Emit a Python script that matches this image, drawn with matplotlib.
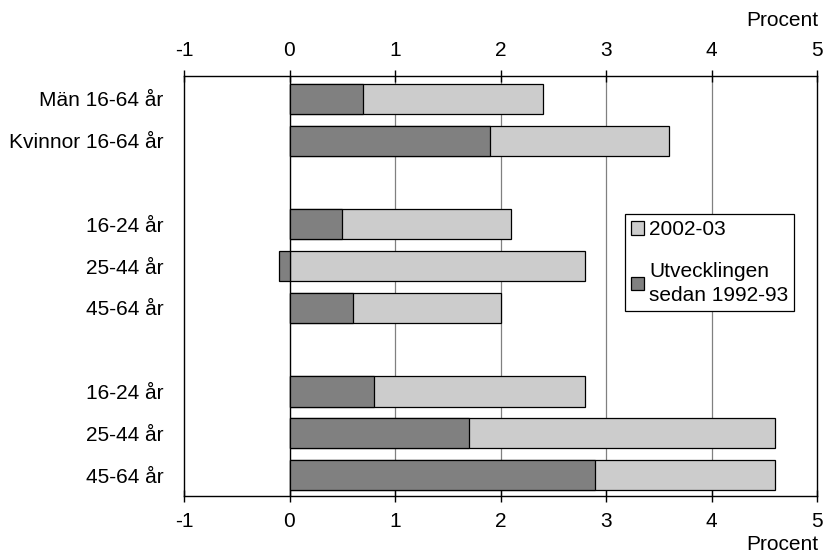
import numpy as np
import matplotlib
matplotlib.use("Agg")
import matplotlib.pyplot as plt
from matplotlib.patches import Patch

# data
labels = ["Män 16-64 år", "Kvinnor 16-64 år",
          "16-24 år", "25-44 år", "45-64 år",
          "16-24 år", "25-44 år", "45-64 år"]
ypos = [0, 1, 3, 4, 5, 7, 8, 9]
level_2002 = [2.4, 3.6, 2.1, 2.8, 2.0, 2.8, 4.6, 4.6]
change_since_1992 = [0.7, 1.9, 0.5, -0.1, 0.6, 0.8, 1.7, 2.9]
xticks = [-1, 0, 1, 2, 3, 4, 5]

plt.rcParams.update({"font.family": ["Liberation Sans", "DejaVu Sans"], "font.size": 15})

fig = plt.figure(figsize=(8.25, 5.58), dpi=100)
ax = fig.add_axes([184/825, 1-496/558, (817-184)/825, (496-76)/558])

light, dark = "#cccccc", "#808080"
h = 0.72
ax.barh(ypos, level_2002, height=h, color=light, edgecolor="black", lw=0.9, zorder=3)
ax.barh(ypos, change_since_1992, height=h, color=dark, edgecolor="black", lw=0.9, zorder=4)

ax.set_xlim(-1, 5)
ax.set_ylim(9.5, -0.55)
ax.set_xticks(xticks)
ax.set_xticklabels([str(t) for t in xticks])
ax.tick_params(axis="x", top=True, labeltop=True, bottom=True, labelbottom=True,
               direction="inout", length=9, width=1, pad=7)
ax.set_yticks(ypos)
ax.set_yticklabels(labels)
ax.tick_params(axis="y", length=0, pad=15)

for t in [1, 2, 3, 4]:
    ax.axvline(t, color="#808080", lw=0.9, zorder=1)
ax.axvline(0, color="black", lw=1.0, zorder=2)
for s in ax.spines.values():
    s.set_linewidth(1.0)

fig.text(818/825, 1-21/558, "Procent", ha="right", va="center", fontsize=15)
fig.text(818/825, 1-545/558, "Procent", ha="right", va="center", fontsize=15)

handles = [Patch(facecolor=light, edgecolor="black", lw=0.9),
           Patch(facecolor=dark, edgecolor="black", lw=0.9)]
leg = ax.legend(handles, ["2002-03", "Utvecklingen\nsedan 1992-93"],
                loc="upper left", bbox_to_anchor=(625/825, 1-214/558),
                bbox_transform=fig.transFigure, frameon=True, fancybox=False,
                edgecolor="black", framealpha=1, handlelength=0.6, handleheight=0.6,
                handletextpad=0.25, labelspacing=1.1, borderpad=0.3, borderaxespad=0)
for t in leg.get_texts():
    t.set_linespacing(1.3)
leg.get_frame().set_linewidth(0.9)
leg.set_zorder(10)

fig.savefig("out.png", dpi=100)
